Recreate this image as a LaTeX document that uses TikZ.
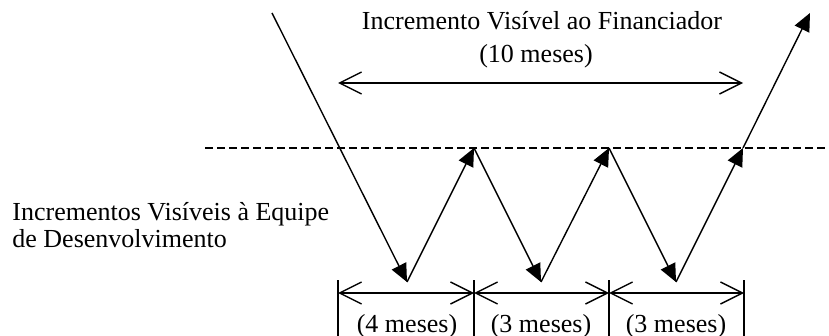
\documentclass[tikz,border=0pt]{standalone}
\usepackage{fontspec}
\setmainfont{Liberation Serif}
\usetikzlibrary{arrows.meta}

\begin{document}
\begin{tikzpicture}[x=0.5pt, y=-0.5pt,
    every node/.style={inner sep=0pt, font=\fontsize{13pt}{13.5pt}\selectfont},
    fwd/.style={line width=0.7pt, -{Triangle[length=9pt, width=8pt]}},
    span/.style={line width=0.7pt, {Straight Barb[length=11pt, width=11pt]}-{Straight Barb[length=11pt, width=11pt]}},
    tick/.style={line width=0.7pt},
    level/.style={line width=0.9pt, dash pattern=on 4pt off 2pt}]
  \useasboundingbox (0,0) rectangle (829,336);

  % zig-zag of increments
  \coordinate (start) at (272,13);
  \coordinate (v1) at (407,282);
  \coordinate (p1) at (474,148);
  \coordinate (v2) at (541,282);
  \coordinate (p2) at (609,148);
  \coordinate (v3) at (676,282);
  \coordinate (p3) at (743,148);
  \coordinate (finish) at (810,13);

  % visibility level
  \coordinate (lvlL) at (205,148);
  \coordinate (lvlR) at (829,148);
  \draw[level] (lvlL) -- (lvlR);

  \draw[fwd] (start) -- (v1);
  \draw[fwd] (v1) -- (p1);
  \draw[fwd] (p1) -- (v2);
  \draw[fwd] (v2) -- (p2);
  \draw[fwd] (p2) -- (v3);
  \draw[fwd] (v3) -- (p3);
  \draw[fwd] (p3) -- (finish);

  % financier increment
  \node[anchor=base] (fin) at (542,30) {Incremento Visível ao Financiador};
  \node[anchor=base] (ten) at (536,63) {(10 meses)};
  \coordinate (finL) at (338,83);
  \coordinate (finR) at (743,83);
  \draw[span] (finL) -- (finR);

  % team increments
  \node[anchor=base west, align=left] (team) at (12,248) {Incrementos Visíveis à Equipe\\de Desenvolvimento};

  % durations
  \foreach \x/\n in {338/0, 474/1, 609/2, 744/3} {
    \coordinate (t\n) at (\x,293);
    \coordinate (b\n) at (\x,280);
    \coordinate (e\n) at (\x,345);
    \draw[tick] (b\n) -- (e\n);
  }
  \draw[span] (t0) -- (t1);
  \draw[span] (t1) -- (t2);
  \draw[span] (t2) -- (t3);
  \node[anchor=base] (m1) at (407,332) {(4 meses)};
  \node[anchor=base] (m2) at (541,332) {(3 meses)};
  \node[anchor=base] (m3) at (676,332) {(3 meses)};
\end{tikzpicture}
\end{document}
